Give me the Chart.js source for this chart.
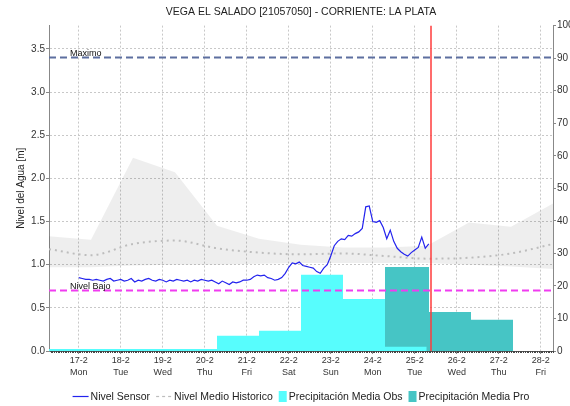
<!DOCTYPE html>
<html>
<head>
<meta charset="utf-8">
<script src="https://cdn.jsdelivr.net/npm/chart.js@4.4.1/dist/chart.umd.min.js"></script>
<style>
  html, body { margin: 0; padding: 0; background: #fff; overflow: hidden; }
</style>
</head>
<body>
<canvas id="grafico" width="570" height="406"></canvas>
<script>
// Datos - eje x en dias del mes (febrero), 16.2917 = 16-2 07:00
const X_MIN = 16.2917;
const X_MAX = 28.2917;
const HORA_ACTUAL = 25.387;

// Ticks del eje x
const tickDias = [17, 18, 19, 20, 21, 22, 23, 24, 25, 26, 27, 28];
const tickFechas = ['17-2', '18-2', '19-2', '20-2', '21-2', '22-2', '23-2', '24-2', '25-2', '26-2', '27-2', '28-2'];
const tickSemana = ['Mon', 'Tue', 'Wed', 'Thu', 'Fri', 'Sat', 'Sun', 'Mon', 'Tue', 'Wed', 'Thu', 'Fri'];

// Nivel sensor: cada 2 horas desde 17-2 00:00
const sensorInicio = 17;
const sensorPasoHoras = 2;
const nivelSensor = [
    0.85, 0.84, 0.83, 0.83, 0.82, 0.83, 0.82, 0.81, 0.83, 0.84, 0.81, 0.82,
    0.83, 0.81, 0.82, 0.84, 0.80, 0.82, 0.81, 0.83, 0.84, 0.82, 0.81, 0.83,
    0.82, 0.80, 0.82, 0.81, 0.83, 0.82, 0.81, 0.82, 0.80, 0.82, 0.81, 0.83,
    0.82, 0.81, 0.82, 0.80, 0.78, 0.81, 0.79, 0.77, 0.80, 0.79, 0.80, 0.82,
    0.82, 0.83, 0.86, 0.88, 0.87, 0.88, 0.85, 0.84, 0.82, 0.83, 0.85, 0.90,
    0.97, 1.02, 1.01, 1.03, 0.99, 0.98, 0.97, 0.96, 0.92, 0.90, 0.96, 1.00,
    1.10, 1.22, 1.27, 1.30, 1.29, 1.34, 1.33, 1.36, 1.38, 1.42, 1.67, 1.68,
    1.50, 1.49, 1.51, 1.43, 1.30, 1.40, 1.27, 1.19, 1.15, 1.12, 1.10, 1.14,
    1.17, 1.20, 1.32, 1.19, 1.24
];

// Historico diario a las 07:00 (16-2 ... 28-2)
const diasHistorico = [16.2917, 17.2917, 18.2917, 19.2917, 20.2917, 21.2917, 22.2917, 23.2917, 24.2917, 25.2917, 26.2917, 27.2917, 28.2917];
const historicoMax = [1.33, 1.29, 2.24, 2.07, 1.45, 1.30, 1.23, 1.20, 1.20, 1.22, 1.49, 1.44, 1.71];
const historicoMin = [0.97, 0.97, 0.99, 1.00, 1.00, 1.01, 1.02, 1.02, 1.02, 1.02, 1.00, 0.98, 0.95];
const nivelMedio = [1.18, 1.11, 1.24, 1.28, 1.19, 1.14, 1.12, 1.13, 1.10, 1.07, 1.08, 1.13, 1.24];

// Precipitacion (mm) - limites de cada dia y valor
const obsLimites = [16.2917, 17.2917, 18.2917, 19.2917, 20.2917, 21.2917, 22.2917, 23.2917, 24.2917, 25.285];
const precipObs = [0.6, 0.6, 0.6, 0.6, 4.7, 6.2, 23.4, 16.0, 1.3];
const proLimites = [24.2917, 25.34, 26.34, 27.34];
const precipPro = [25.8, 12.0, 9.6];

// Umbrales
const NIVEL_MAXIMO = 3.4;
const NIVEL_BAJO = 0.7;
const Y_MAX = 3.77;

const FUENTE = '"Liberation Sans", Arial, sans-serif';

function escalones(limites, valores) {
    return limites.map((x, i) => ({ x: x, y: i < valores.length ? valores[i] : 0 }));
}

function serieDiaria(dias, valores) {
    return dias.map((x, i) => ({ x: x, y: valores[i] }));
}

function lineaHorizontal(valor) {
    return [{ x: X_MIN, y: valor }, { x: X_MAX, y: valor }];
}

// Leyenda abajo (centrada en el area del grafico)
const leyendaPlugin = {
    id: 'leyendaAbajo',
    afterDraw(chart) {
        const ctx = chart.ctx;
        const area = chart.chartArea;
        const items = chart.data.datasets.filter(d => d.leyenda);
        ctx.save();
        ctx.font = '10.5px ' + FUENTE;
        const anchos = items.map(d => (d.leyenda === 'linea' ? 18 : 10) + ctx.measureText(d.label).width);
        const total = anchos.reduce((a, b) => a + b, 0) + 6 * (items.length - 1);
        let x = (area.left + area.right) / 2 - total / 2;
        const y = 396;
        items.forEach(d => {
            if (d.leyenda === 'linea') {
                ctx.strokeStyle = d.borderColor;
                ctx.lineWidth = d.leyendaAncho || d.borderWidth;
                ctx.setLineDash(d.leyendaDash || []);
                ctx.beginPath();
                ctx.moveTo(x, y + 0.5);
                ctx.lineTo(x + 16, y + 0.5);
                ctx.stroke();
                ctx.setLineDash([]);
                x += 18;
            } else {
                ctx.fillStyle = d.backgroundColor;
                ctx.fillRect(x, y - 5, 8, 11);
                x += 10;
            }
            ctx.fillStyle = '#222';
            ctx.textBaseline = 'middle';
            ctx.fillText(d.label, x, y + 1);
            x += ctx.measureText(d.label).width + 6;
        });
        ctx.restore();
    }
};

// Textos de los umbrales y marcas menores del eje x
const extrasPlugin = {
    id: 'extras',
    afterDatasetsDraw(chart) {
        const ctx = chart.ctx;
        const ys = chart.scales.y;
        const xs = chart.scales.x;
        ctx.save();
        ctx.font = '9px ' + FUENTE;
        ctx.fillStyle = '#111';
        ctx.textBaseline = 'alphabetic';
        ctx.fillText('Maximo', xs.left + 21, ys.getPixelForValue(NIVEL_MAXIMO) - 2);
        ctx.fillText('Nivel Bajo', xs.left + 21, ys.getPixelForValue(NIVEL_BAJO) - 2);
        // marcas horarias en el eje x
        ctx.strokeStyle = '#444';
        ctx.lineWidth = 1;
        ctx.beginPath();
        for (let h = Math.ceil(X_MIN * 24); h <= X_MAX * 24; h++) {
            const px = Math.round(xs.getPixelForValue(h / 24)) + 0.5;
            ctx.moveTo(px, xs.top);
            ctx.lineTo(px, xs.top + 2);
        }
        ctx.stroke();
        ctx.restore();
    }
};

const ctx = document.getElementById('grafico').getContext('2d');

new Chart(ctx, {
    type: 'line',
    data: {
        datasets: [
            {
                label: 'Nivel Sensor',
                leyenda: 'linea',
                data: nivelSensor.map((v, i) => ({ x: sensorInicio + i * sensorPasoHoras / 24, y: v })),
                borderColor: '#2323ee',
                borderWidth: 1.2,
                pointRadius: 0,
                yAxisID: 'y'
            },
            {
                label: 'Hora actual',
                data: [{ x: HORA_ACTUAL, y: 0 }, { x: HORA_ACTUAL, y: Y_MAX }],
                borderColor: '#ff3b3b',
                borderWidth: 1.5,
                pointRadius: 0,
                yAxisID: 'y'
            },
            {
                label: 'Maximo',
                data: lineaHorizontal(NIVEL_MAXIMO),
                borderColor: '#5d6f9f',
                borderWidth: 2,
                borderDash: [7, 4],
                pointRadius: 0,
                yAxisID: 'y'
            },
            {
                label: 'Nivel Bajo',
                data: lineaHorizontal(NIVEL_BAJO),
                borderColor: '#f03cf0',
                borderWidth: 2,
                borderDash: [7, 4],
                pointRadius: 0,
                yAxisID: 'y'
            },
            {
                label: 'Nivel Medio Historico',
                leyenda: 'linea',
                leyendaDash: [3, 3],
                leyendaAncho: 1.2,
                data: serieDiaria(diasHistorico, nivelMedio),
                borderColor: '#bdbdbd',
                borderWidth: 2,
                borderDash: [2, 4],
                cubicInterpolationMode: 'monotone',
                pointRadius: 0,
                yAxisID: 'y'
            },
            {
                label: 'Precipitación Media Obs',
                leyenda: 'caja',
                data: escalones(obsLimites, precipObs),
                stepped: true,
                fill: 'origin',
                backgroundColor: '#57fdfd',
                borderColor: '#57fdfd',
                borderWidth: 0,
                pointRadius: 0,
                yAxisID: 'y2'
            },
            {
                label: 'Precipitación Media Pro',
                leyenda: 'caja',
                data: escalones(proLimites, precipPro),
                stepped: true,
                fill: 'origin',
                backgroundColor: '#46c5c5',
                borderColor: '#46c5c5',
                borderWidth: 0,
                pointRadius: 0,
                yAxisID: 'y2'
            },
            {
                label: 'Historico max',
                data: serieDiaria(diasHistorico, historicoMax),
                fill: '+1',
                backgroundColor: 'rgba(0,0,0,0.065)',
                borderWidth: 0,
                pointRadius: 0,
                yAxisID: 'y'
            },
            {
                label: 'Historico min',
                data: serieDiaria(diasHistorico, historicoMin),
                borderWidth: 0,
                pointRadius: 0,
                yAxisID: 'y'
            }
        ]
    },
    options: {
        responsive: false,
        animation: false,
        devicePixelRatio: 1,
        layout: { padding: { left: 0, right: 0, top: 0, bottom: 25 } },
        plugins: {
            legend: { display: false },
            tooltip: { enabled: false },
            title: {
                display: true,
                fullSize: false,
                text: 'VEGA EL SALADO [21057050] - CORRIENTE: LA PLATA',
                color: '#222',
                font: { family: FUENTE, size: 10.5, weight: 'normal' },
                padding: { top: 6, bottom: 7 }
            }
        },
        scales: {
            x: {
                type: 'linear',
                min: X_MIN,
                max: X_MAX,
                afterBuildTicks: (scale) => { scale.ticks = tickDias.map(v => ({ value: v })); },
                afterFit: (scale) => { scale.height = 30; },
                ticks: {
                    autoSkip: false,
                    maxRotation: 0,
                    padding: 1,
                    color: '#333',
                    font: { family: FUENTE, size: 9, lineHeight: 1.3 },
                    callback: (v) => {
                        const i = tickDias.indexOf(v);
                        return i >= 0 ? [tickFechas[i], tickSemana[i]] : '';
                    }
                },
                grid: { color: '#c8c8c8', tickLength: 3, tickColor: '#888', tickBorderDash: [] },
                border: { display: true, color: '#555', dash: [2, 2] }
            },
            y: {
                position: 'left',
                min: 0,
                max: Y_MAX,
                afterFit: (scale) => { scale.width = 49; },
                ticks: {
                    stepSize: 0.5,
                    includeBounds: false,
                    padding: 1,
                    color: '#333',
                    font: { family: FUENTE, size: 10 },
                    callback: (v) => v.toFixed(1)
                },
                title: {
                    display: true,
                    text: 'Nivel del Agua [m]',
                    color: '#222',
                    font: { family: FUENTE, size: 10 },
                    padding: { top: 15, bottom: 0 }
                },
                grid: { color: '#c8c8c8', tickLength: 3, tickColor: '#888', tickBorderDash: [] },
                border: { display: true, color: '#888', dash: [2, 2] }
            },
            y2: {
                position: 'right',
                min: 0,
                max: 100,
                afterFit: (scale) => { scale.width = 17; },
                ticks: {
                    stepSize: 10,
                    padding: 1,
                    color: '#333',
                    font: { family: FUENTE, size: 10 }
                },
                grid: { drawOnChartArea: false, tickLength: 3, tickColor: '#888', tickBorderDash: [] },
                border: { display: true, color: '#888' }
            }
        }
    },
    plugins: [leyendaPlugin, extrasPlugin]
});
</script>
</body>
</html>
